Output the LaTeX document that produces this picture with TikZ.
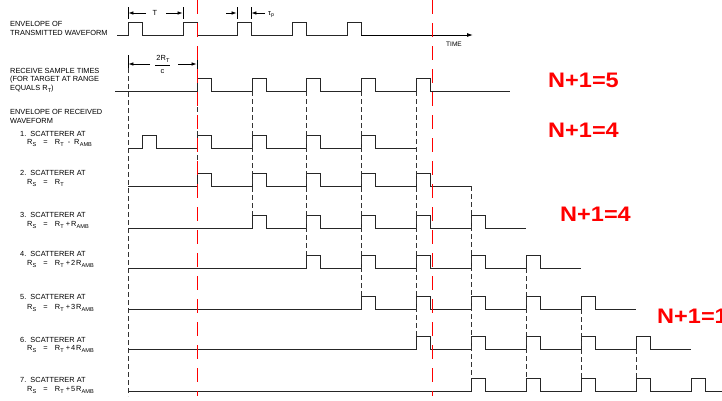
\documentclass[tikz,border=0pt]{standalone}
\usepackage{fontspec}
\setmainfont{Liberation Sans}
\usetikzlibrary{arrows.meta}
\newcommand\Rsub[1]{R\kern0.2pt\raisebox{-0.55ex}{\fontsize{5.6}{6}\selectfont #1}}
\newcommand\sigwave[4]{%
  \draw[wave] (#2,#1) \foreach \p in {#4}{ -- (\p,#1) -- (\p,#1-13) -- (\p+14,#1-13) -- (\p+14,#1) } -- (#3,#1);}
\newcommand\widebold[1]{\scalebox{1.12}[1]{#1}}
\tikzset{
  wave/.style={line width=0.9pt, black!85, line join=miter},
  guide/.style={dash pattern=on 5pt off 3pt, line width=0.6pt, black!80},
  redguide/.style={dash pattern=on 14pt off 9pt, line width=0.9pt, red},
  dimarrow/.style={line width=0.7pt, -{Latex[length=5pt,width=3.6pt]}},
  tickline/.style={line width=0.7pt},
  lab/.style={font=\fontsize{7.4}{8}\selectfont, inner sep=0pt, anchor=west},
  nlab/.style={font=\fontsize{21}{24}\selectfont\bfseries, text=red, inner sep=0pt, anchor=west},
}
\begin{document}
\begin{tikzpicture}[x=1pt,y=-1pt]
\fill[white] (0,0) rectangle (722,400);
\useasboundingbox (0,0) rectangle (722,400);

% ---------- labels on the left ----------
\node[lab] (envT1) at (10,24) {ENVELOPE OF};
\node[lab] (envT2) at (10,33) {TRANSMITTED WAVEFORM};
\node[lab] (rcv1) at (10,71) {RECEIVE SAMPLE TIMES};
\node[lab] (rcv2) at (10,80) {(FOR TARGET AT RANGE};
\node[lab] (rcv3) at (10,89) {EQUALS \Rsub{T})};
\node[lab] (envR1) at (10,112) {ENVELOPE OF RECEIVED};
\node[lab] (envR2) at (10,121) {WAVEFORM};

\node[lab] (s1) at (20,134) {1.\ \ SCATTERER AT};
\node[lab] (f1) at (27,143) {\Rsub{S}\hspace{7pt}=\hspace{7pt}\Rsub{T}\hspace{4pt}-\hspace{4pt}\Rsub{AMB}};
\node[lab] (s2) at (20,173) {2.\ \ SCATTERER AT};
\node[lab] (f2) at (27,183) {\Rsub{S}\hspace{7pt}=\hspace{7pt}\Rsub{T}};
\node[lab] (s3) at (20,215) {3.\ \ SCATTERER AT};
\node[lab] (f3) at (27,225) {\Rsub{S}\hspace{7pt}=\hspace{7pt}\Rsub{T}\hspace{2pt}+\hspace{1pt}\Rsub{AMB}};
\node[lab] (s4) at (20,254) {4.\ \ SCATTERER AT};
\node[lab] (f4) at (27,264) {\Rsub{S}\hspace{7pt}=\hspace{7pt}\Rsub{T}\hspace{2pt}+\hspace{1pt}2\hspace{1pt}\Rsub{AMB}};
\node[lab] (s5) at (20,297) {5.\ \ SCATTERER AT};
\node[lab] (f5) at (27,308) {\Rsub{S}\hspace{7pt}=\hspace{7pt}\Rsub{T}\hspace{2pt}+\hspace{1pt}3\hspace{1pt}\Rsub{AMB}};
\node[lab] (s6) at (20,340) {6.\ \ SCATTERER AT};
\node[lab] (f6) at (27,349) {\Rsub{S}\hspace{7pt}=\hspace{7pt}\Rsub{T}\hspace{2pt}+\hspace{1pt}4\hspace{1pt}\Rsub{AMB}};
\node[lab] (s7) at (20,380) {7.\ \ SCATTERER AT};
\node[lab] (f7) at (27,390) {\Rsub{S}\hspace{7pt}=\hspace{7pt}\Rsub{T}\hspace{2pt}+\hspace{1pt}5\hspace{1pt}\Rsub{AMB}};

% ---------- transmitted waveform ----------
\draw[wave] (117,35) -- (128,35) -- (128,22) -- (142,22) -- (142,35)
  -- (183,35) -- (183,22) -- (197,22) -- (197,35)
  -- (237,35) -- (237,22) -- (251,22) -- (251,35)
  -- (292,35) -- (292,22) -- (306,22) -- (306,35)
  -- (347,35) -- (347,22) -- (361,22) -- (361,35);
\coordinate (tstart) at (361,35);
\coordinate (tend) at (473,35);
\draw[line width=0.9pt, -{Latex[length=6pt,width=4pt]}] (tstart) -- (tend);
\node[inner sep=0pt, font=\fontsize{6.5}{7}\selectfont] (time) at (454,44) {TIME};

% T dimension
\draw[tickline] (128,7) -- (128,19);
\draw[tickline] (183,7) -- (183,19);
\node[lab, anchor=center] (Tlab) at (155,13) {T};
\coordinate (Ta) at (146,13); \coordinate (Tb) at (128.4,13);
\coordinate (Tc) at (166,13); \coordinate (Td) at (182.6,13);
\draw[dimarrow] (Ta) -- (Tb);
\draw[dimarrow] (Tc) -- (Td);

% tau_p dimension
\draw[tickline] (237,7) -- (237,19);
\draw[tickline] (251,7) -- (251,19);
\coordinate (pa) at (226,13); \coordinate (pb) at (236.6,13);
\coordinate (pc) at (265,13); \coordinate (pd) at (251.4,13);
\draw[dimarrow] (pa) -- (pb);
\draw[dimarrow] (pc) -- (pd);
\node[lab] (taup) at (268,15) {τ\textsubscript{p}};

% 2R_T/c dimension
\draw[tickline] (128,55) -- (128,68);
\draw[tickline] (197,55) -- (197,70);
\coordinate (ra) at (150,64); \coordinate (rb) at (128.4,64);
\coordinate (rc) at (178,64); \coordinate (rd) at (196.6,64);
\draw[dimarrow] (ra) -- (rb);
\draw[dimarrow] (rc) -- (rd);
\node[lab, anchor=center] (num) at (163,58.5) {2\Rsub{T}};
\draw[line width=0.6pt] (155,65.5) -- (170,65.5);
\node[lab, anchor=center] (den) at (162.5,71.5) {c};

% ---------- receive sample times ----------
\sigwave{91}{115}{510}{197,252,306,361,416}

% ---------- scatterers ----------
\sigwave{148}{128}{416}{142,197,252,306,361}
\sigwave{186}{128}{471}{197,252,306,361,416}
\sigwave{228}{128}{526}{252,306,361,416,471}
\sigwave{268}{128}{581}{306,361,416,471,526}
\sigwave{309}{128}{636}{361,416,471,526,581}
\sigwave{349}{128}{691}{416,471,526,581,636}
\sigwave{391}{128}{730}{471,526,581,636,691}

% ---------- black dashed guides ----------
\draw[guide] (128,68) -- (128,396);
\draw[guide] (197,91) -- (197,173);
\draw[guide] (252,91) -- (252,215);
\draw[guide] (306,91) -- (306,255);
\draw[guide] (361,91) -- (361,296);
\draw[guide] (416,91) -- (416,336);
\draw[guide] (471,186) -- (471,378);
\draw[guide] (526,268) -- (526,378);
\draw[guide] (581,309) -- (581,378);
\draw[guide] (636,349) -- (636,378);

% ---------- red dashed lines ----------
\draw[redguide] (197,0) -- (197,396);
\draw[redguide] (432,0) -- (432,396);

% ---------- red annotations ----------
\node[nlab] (n5) at (548,80.5) {\widebold{N+1=5}};
\node[nlab] (n4a) at (548,130.5) {\widebold{N+1=4}};
\node[nlab] (n4b) at (560,214) {\widebold{N+1=4}};
\node[nlab] (n1) at (657,316) {\widebold{N+1=1}};
\end{tikzpicture}
\end{document}
